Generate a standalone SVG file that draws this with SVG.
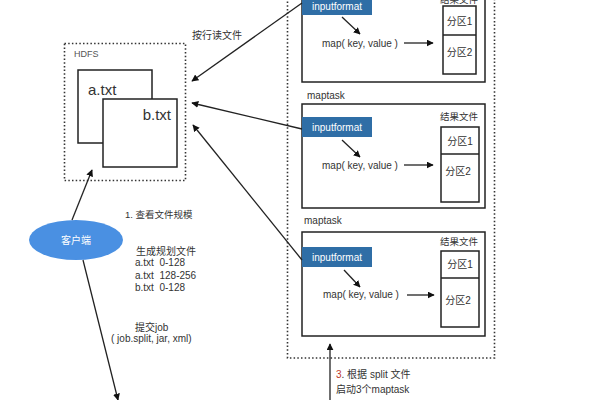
<svg xmlns="http://www.w3.org/2000/svg" width="600" height="400" viewBox="0 0 600 400">
<style>
text{font-family:"Liberation Sans","Noto Sans CJK SC",sans-serif;fill:#333;font-size:10px;white-space:pre}
.box{fill:#fff;stroke:#222;stroke-width:1.5}
.dot{fill:none;stroke:#333;stroke-width:1.6;stroke-dasharray:1.5 2.2}
.if{fill:#2f6ea6}
.ift{fill:#fff}
.ln{stroke:#222;stroke-width:1.3;fill:none;marker-end:url(#ah)}
.big{font-size:15px}
.res{font-size:9.5px;text-anchor:end}
</style>
<defs>
<marker id="ah" viewBox="0 0 10 10" refX="9" refY="5" markerWidth="7" markerHeight="7" markerUnits="userSpaceOnUse" orient="auto"><path d="M0,0L10,5L0,10z" fill="#111"/></marker>
</defs>
<rect width="600" height="400" fill="#fff"/>

<g id="hdfs">
<rect class="dot" x="64.5" y="43.5" width="121" height="137"/>
<text x="74" y="57" style="font-size:9px;fill:#555">HDFS</text>
<rect class="box" x="78" y="70" width="74" height="73"/>
<text class="big" x="88" y="95">a.txt</text>
<rect class="box" x="103" y="99" width="74" height="68"/>
<text class="big" x="171" y="120" text-anchor="end">b.txt</text>
</g>

<g id="client">
<ellipse cx="76" cy="240" rx="47" ry="20" fill="#4a90e2"/>
<text x="76" y="244" text-anchor="middle" class="ift">客户端</text>
</g>

<g id="cluster">
<rect class="dot" x="287.5" y="-20" width="207" height="378"/>
</g>

<g id="maptask1">
<rect class="box" x="302" y="-20" width="183" height="102"/>
<text class="res" x="478" y="3">结果文件</text>
<rect class="if" x="302" y="-5" width="70" height="20"/>
<text class="ift" x="312" y="10">inputformat</text>
<text x="322" y="47">map( key, value )</text>
<rect class="box" x="443" y="6" width="33" height="68"/>
<line x1="443" y1="35" x2="476" y2="35" stroke="#222" stroke-width="1.5"/>
<text x="459.5" y="25" text-anchor="middle">分区1</text>
<text x="459.5" y="56" text-anchor="middle">分区2</text>
</g>

<g id="maptask2">
<text x="307" y="99">maptask</text>
<rect class="box" x="302" y="104" width="183" height="104"/>
<text class="res" x="478" y="120">结果文件</text>
<rect class="if" x="302" y="117" width="70" height="20"/>
<text class="ift" x="312" y="131">inputformat</text>
<text x="322" y="169">map( key, value )</text>
<rect class="box" x="441" y="127" width="38" height="75"/>
<line x1="441" y1="154" x2="479" y2="154" stroke="#222" stroke-width="1.5"/>
<text x="460" y="145" text-anchor="middle">分区1</text>
<text x="458" y="175" text-anchor="middle">分区2</text>
</g>

<g id="maptask3">
<text x="304" y="224">maptask</text>
<rect class="box" x="302" y="232" width="183" height="104"/>
<text class="res" x="478" y="245">结果文件</text>
<rect class="if" x="302" y="247" width="70" height="20"/>
<text class="ift" x="312" y="261">inputformat</text>
<text x="323" y="298">map( key, value )</text>
<rect class="box" x="441" y="251" width="38" height="76"/>
<line x1="441" y1="278" x2="479" y2="278" stroke="#222" stroke-width="1.5"/>
<text x="460" y="268" text-anchor="middle">分区1</text>
<text x="458" y="304" text-anchor="middle">分区2</text>
</g>

<g id="connectors">
<line class="ln" x1="302" y1="3" x2="192" y2="81"/>
<line class="ln" x1="302" y1="129" x2="192" y2="103"/>
<line class="ln" x1="302" y1="260" x2="193" y2="125"/>
<line class="ln" x1="72" y1="220" x2="92" y2="170"/>
<line class="ln" x1="83" y1="260" x2="118" y2="400"/>
<line class="ln" x1="330" y1="400" x2="330" y2="344"/>
<line class="ln" x1="342" y1="17" x2="360" y2="34"/>
<line class="ln" x1="404" y1="43" x2="433" y2="43"/>
<line class="ln" x1="342" y1="140" x2="360" y2="157"/>
<line class="ln" x1="404" y1="165" x2="433" y2="165"/>
<line class="ln" x1="344" y1="270" x2="360" y2="287"/>
<line class="ln" x1="407" y1="295" x2="434" y2="295"/>
</g>

<g id="labels">
<text x="192" y="39">按行读文件</text>
<text x="125" y="218" style="font-size:9.5px">1. 查看文件规模</text>
<text x="136" y="255">生成规划文件</text>
<text x="135" y="266">a.txt  0-128</text>
<text x="135" y="279">a.txt  128-256</text>
<text x="135" y="291">b.txt  0-128</text>
<text x="135" y="331">提交job</text>
<text x="111" y="342">( job.split, jar, xml)</text>
<text x="336" y="378"><tspan fill="#c0392b">3</tspan>. 根据 split 文件</text>
<text x="336" y="393">启动3个maptask</text>
</g>
</svg>
